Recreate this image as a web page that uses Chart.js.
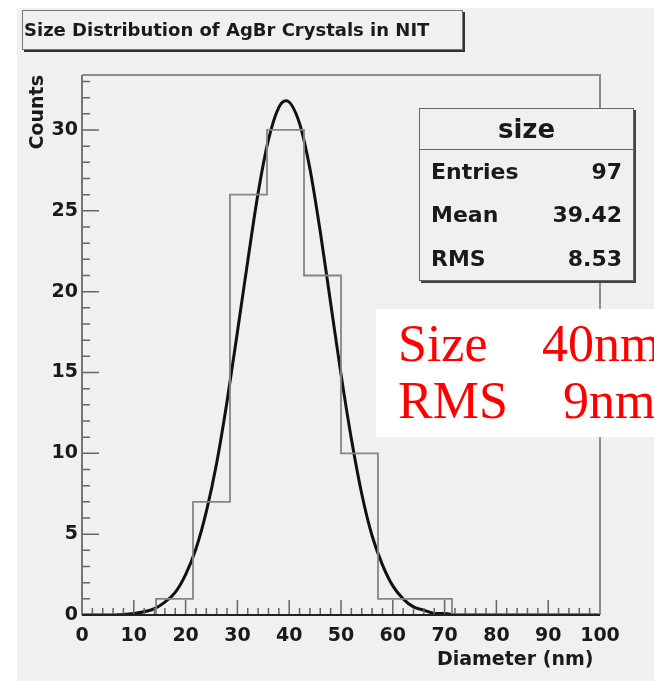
<!DOCTYPE html>
<html>
<head>
<meta charset="utf-8">
<title>Size Distribution of AgBr Crystals in NIT</title>
<script src="https://cdn.jsdelivr.net/npm/chart.js@4.4.0/dist/chart.umd.min.js"></script>
<style>
  html,body{margin:0;padding:0;background:#fff;}
  body{width:654px;height:681px;position:relative;overflow:hidden;font-family:'DejaVu Sans',sans-serif;color:#1a1a1a;}
  #bg{position:absolute;left:17px;top:8px;right:0;bottom:0;background:#f0f0f0;}
  #chart{position:absolute;left:0;top:0;}
  #title{position:absolute;left:22px;top:10px;width:438px;height:38px;border:1px solid #777;box-shadow:2px 2px 0 #333;
    font-weight:bold;font-size:18px;line-height:38px;white-space:nowrap;padding-left:1px;box-sizing:content-box;}
  #stats{position:absolute;left:419px;top:108px;width:213px;background:#f0f0f0;border:1px solid #666;box-shadow:2px 2px 0 #444;}
  #stats .head{height:40px;line-height:40px;text-align:center;font-weight:bold;font-size:26px;border-bottom:1px solid #666;}
  #stats .row{display:flex;justify-content:space-between;height:43.4px;line-height:43.4px;padding:0 11px;font-weight:bold;font-size:22px;}
  #note{position:absolute;left:376px;top:309px;width:300px;height:128px;background:#fff;}
  #note span{position:absolute;font-family:'Liberation Serif','Times New Roman',serif;font-size:52px;line-height:52px;color:#ff0000;white-space:nowrap;}
</style>
</head>
<body>
<div id="bg"></div>
<canvas id="chart" width="654" height="681"></canvas>
<div id="title"></div>
<div id="stats"></div>
<div id="note"></div>
<script>
// histogram (14 bins over 0-100 nm)
const binEdges  = [0, 7.14, 14.29, 21.43, 28.57, 35.71, 42.86, 50, 57.14, 64.29, 71.43, 78.57, 85.71, 92.86, 100];
const binCounts = [0, 0, 1, 7, 26, 30, 21, 10, 1, 1, 0, 0, 0, 0];

// gaussian fit curve
const fitX = [0, 5, 10, 12, 14, 16, 18, 20, 22, 24, 26, 28, 30, 32, 34, 36, 38, 39.4, 42, 44, 46, 48, 50, 52, 54, 56, 58, 60, 62, 64, 66, 68, 70, 72, 80, 90, 100];
const fitY = [0, 0, 0.1, 0.2, 0.4, 0.8, 1.4, 2.5, 4.1, 6.4, 9.4, 13.2, 17.5, 21.9, 26.1, 29.4, 31.4, 31.8, 30.4, 27.6, 23.7, 19.3, 14.9, 10.9, 7.5, 4.9, 3.1, 1.8, 1.0, 0.5, 0.3, 0.1, 0.1, 0, 0, 0, 0];

const xRange = [0, 100];
const yRange = [0, 33.4];

const histTitle = 'Size Distribution of AgBr Crystals in NIT';
const statName = 'size';
const statLabels = ['Entries', 'Mean', 'RMS'];
const statValues = ['97', '39.42', '8.53'];
const noteLabels = ['Size', 'RMS'];
const noteValues = ['40nm', '9nm'];

document.getElementById('title').textContent = histTitle;
const stats = document.getElementById('stats');
const head = document.createElement('div'); head.className = 'head'; head.textContent = statName; stats.appendChild(head);
statLabels.forEach((l, i) => {
  const row = document.createElement('div'); row.className = 'row';
  const a = document.createElement('span'); a.textContent = l;
  const b = document.createElement('span'); b.textContent = statValues[i];
  row.appendChild(a); row.appendChild(b); stats.appendChild(row);
});
const note = document.getElementById('note');
const noteLeft = [22, 166], valueLeft = [166, 187], noteTop = [8.5, 65.5];
noteLabels.forEach((l, i) => {
  const s1 = document.createElement('span'); s1.textContent = l; s1.style.left = noteLeft[0] + 'px'; s1.style.top = noteTop[i] + 'px';
  const s2 = document.createElement('span'); s2.textContent = noteValues[i]; s2.style.left = valueLeft[i] + 'px'; s2.style.top = noteTop[i] + 'px';
  note.appendChild(s1); note.appendChild(s2);
});

// ROOT style frame + inward ticks
const frameTicks = {
  id: 'frameTicks',
  afterDatasetsDraw(chart) {
    const {ctx, chartArea: a, scales: {x, y}} = chart;
    ctx.save();
    ctx.strokeStyle = '#666'; ctx.lineWidth = 1.5;
    ctx.beginPath();
    for (let v = 0; v <= yRange[1]; v += 1) {
      const py = y.getPixelForValue(v), len = v % 5 === 0 ? 17 : 8;
      ctx.moveTo(a.left, py); ctx.lineTo(a.left + len, py);
    }
    for (let v = 0; v <= xRange[1]; v += 2) {
      const px = x.getPixelForValue(v), len = v % 10 === 0 ? 15 : 7;
      ctx.moveTo(px, a.bottom); ctx.lineTo(px, a.bottom - len);
    }
    ctx.stroke();
    // top + right frame
    ctx.strokeStyle = '#8c8c8c'; ctx.lineWidth = 2;
    ctx.beginPath();
    ctx.moveTo(a.left, a.top); ctx.lineTo(a.right, a.top); ctx.lineTo(a.right, a.bottom);
    ctx.stroke();
    // y axis
    ctx.strokeStyle = '#777';
    ctx.beginPath(); ctx.moveTo(a.left, a.top); ctx.lineTo(a.left, a.bottom); ctx.stroke();
    // x axis
    ctx.strokeStyle = '#222';
    ctx.beginPath(); ctx.moveTo(a.left, a.bottom); ctx.lineTo(a.right, a.bottom); ctx.stroke();
    ctx.restore();
  }
};

const histPts = binEdges.map((e, i) => ({x: e, y: i < binCounts.length ? binCounts[i] : 0}));
const fitPts = fitX.map((v, i) => ({x: v, y: fitY[i]}));

const tickFont = {family: "'DejaVu Sans', sans-serif", weight: 'bold', size: 19};

new Chart(document.getElementById('chart'), {
  type: 'line',
  data: {
    datasets: [
      {data: histPts, stepped: true, borderColor: '#858585', borderWidth: 1.8, pointRadius: 0, fill: false},
      {data: fitPts, cubicInterpolationMode: 'monotone', borderColor: '#111', borderWidth: 3, pointRadius: 0, fill: false}
    ]
  },
  options: {
    responsive: false,
    animation: false,
    layout: {padding: {left: 0, top: 75, right: 54, bottom: 0}},
    plugins: {legend: {display: false}, tooltip: {enabled: false}, title: {display: false}},
    scales: {
      x: {
        type: 'linear', min: xRange[0], max: xRange[1],
        grid: {display: false, drawTicks: false}, border: {display: false},
        ticks: {stepSize: 10, autoSkip: false, maxRotation: 0, padding: 10, color: '#1a1a1a', font: tickFont},
        title: {display: true, text: 'Diameter (nm) ', align: 'end', color: '#1a1a1a', font: tickFont, padding: {top: 0, bottom: 10}},
        afterFit(s) { s.height = 66; }
      },
      y: {
        type: 'linear', min: yRange[0], max: yRange[1],
        grid: {display: false, drawTicks: false}, border: {display: false},
        ticks: {stepSize: 5, includeBounds: false, padding: 4, color: '#1a1a1a', font: tickFont},
        title: {display: true, text: 'Counts', align: 'end', color: '#1a1a1a', font: tickFont, padding: {top: 27, bottom: 0}},
        afterFit(s) { s.width = 82; }
      }
    }
  },
  plugins: [frameTicks]
});
</script>
</body>
</html>
